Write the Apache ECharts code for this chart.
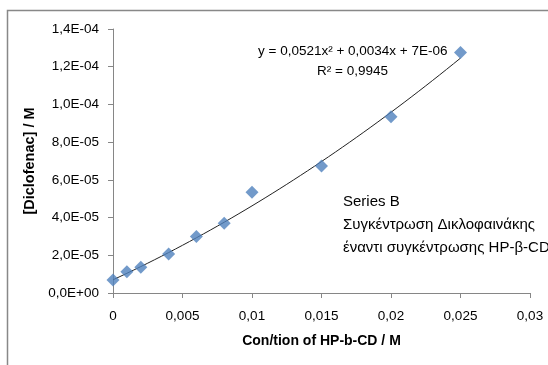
<!DOCTYPE html>
<html>
<head>
<meta charset="utf-8">
<script src="https://cdn.jsdelivr.net/npm/echarts@6/dist/echarts.min.js"></script>
<style>
  html, body { margin: 0; padding: 0; background: #fff; }
  #chart { width: 548px; height: 365px; }
</style>
</head>
<body>
<div id="chart"></div>
<script>
// Δεδομένα: συγκέντρωση HP-b-CD (M) και Diclofenac (M)
const concHP = [0, 0.001, 0.002, 0.004, 0.006, 0.008, 0.01, 0.015, 0.02, 0.025]
const concDiclo = [6.9e-6, 1.13e-5, 1.36e-5, 2.07e-5, 2.99e-5, 3.70e-5, 5.34e-5, 6.74e-5, 9.35e-5, 1.275e-4]

// πολυωνυμική γραμμή τάσης (όπως στην εξίσωση του διαγράμματος)
const trendCoef = [7e-6, 0.0034, 0.0521]   // c0, c1, c2
const trendRange = [0, 0.025]

const xTicks = { min: 0, max: 0.03, interval: 0.005 }
const yTicks = { min: 0, max: 1.4e-4, interval: 2e-5 }

const eqText = 'y = 0,0521x² + 0,0034x + 7E-06'
const r2Text = 'R² = 0,9945'
const legendLines = ['Series B', 'Συγκέντρωση Δικλοφαινάκης', 'έναντι συγκέντρωσης HP-β-CD']

const FONT = '"Liberation Sans", Arial, sans-serif'

const scatterData = concHP.map((x, i) => [x, concDiclo[i]])

const trendData = []
const steps = 50
for (let i = 0; i <= steps; i++) {
  const x = trendRange[0] + (trendRange[1] - trendRange[0]) * i / steps
  trendData.push([x, trendCoef[0] + trendCoef[1] * x + trendCoef[2] * x * x])
}

function fmtY(v) {
  if (v === 0) return '0,0E+00'
  const exp = Math.floor(Math.log10(Math.abs(v)) + 1e-9)
  const mant = v / Math.pow(10, exp)
  const sign = exp < 0 ? '-' : '+'
  const e = String(Math.abs(exp)).padStart(2, '0')
  return mant.toFixed(1).replace('.', ',') + 'E' + sign + e
}

function fmtX(v) {
  return String(parseFloat(v.toFixed(4))).replace('.', ',')
}

const chart = echarts.init(document.getElementById('chart'))

const axisColor = '#868686'

chart.setOption({
  backgroundColor: '#fff',
  animation: false,
  grid: { left: 113, right: 18, top: 29, bottom: 72 },
  xAxis: {
    type: 'value',
    min: xTicks.min,
    max: xTicks.max,
    interval: xTicks.interval,
    name: 'Con/tion of HP-b-CD / M',
    nameLocation: 'middle',
    nameGap: 41,
    nameTextStyle: { fontFamily: FONT, fontWeight: 'bold', fontSize: 14, color: '#000' },
    axisLine: { lineStyle: { color: axisColor, width: 1 } },
    axisTick: { show: true, length: 5, lineStyle: { color: axisColor } },
    splitLine: { show: false },
    axisLabel: { formatter: fmtX, fontFamily: FONT, fontSize: 13.5, color: '#000', margin: 16 }
  },
  yAxis: {
    type: 'value',
    min: yTicks.min,
    max: yTicks.max,
    interval: yTicks.interval,
    name: '[Diclofenac] / M',
    nameLocation: 'middle',
    nameGap: 62,
    nameTextStyle: { fontFamily: FONT, fontWeight: 'bold', fontSize: 14.5, color: '#000' },
    axisLine: { show: true, lineStyle: { color: axisColor, width: 1 } },
    axisTick: { show: true, length: 5, lineStyle: { color: axisColor } },
    splitLine: { show: false },
    axisLabel: { formatter: fmtY, fontFamily: FONT, fontSize: 13.5, color: '#000', margin: 14 }
  },
  series: [
    {
      type: 'line',
      data: trendData,
      showSymbol: false,
      lineStyle: { color: '#222', width: 1 },
      z: 1
    },
    {
      type: 'scatter',
      data: scatterData,
      symbol: 'diamond',
      symbolSize: 13,
      itemStyle: { color: '#4F81BD' },
      z: 2
    }
  ],
  graphic: [
    {
      type: 'rect',
      shape: { x: 7.5, y: 10.5, width: 600, height: 400 },
      style: { fill: 'none', stroke: '#888', lineWidth: 1.5 },
      silent: true
    },
    {
      type: 'text',
      left: 258,
      top: 44,
      style: { text: eqText, fontFamily: FONT, fontSize: 13.5, fill: '#000' }
    },
    {
      type: 'text',
      left: 317,
      top: 64,
      style: { text: r2Text, fontFamily: FONT, fontSize: 13.5, fill: '#000' }
    },
    {
      type: 'text',
      left: 343,
      top: 190,
      style: {
        text: legendLines.join('\n'),
        fontFamily: FONT,
        fontSize: 15,
        lineHeight: 23,
        fill: '#000'
      }
    }
  ]
})
</script>
</body>
</html>
